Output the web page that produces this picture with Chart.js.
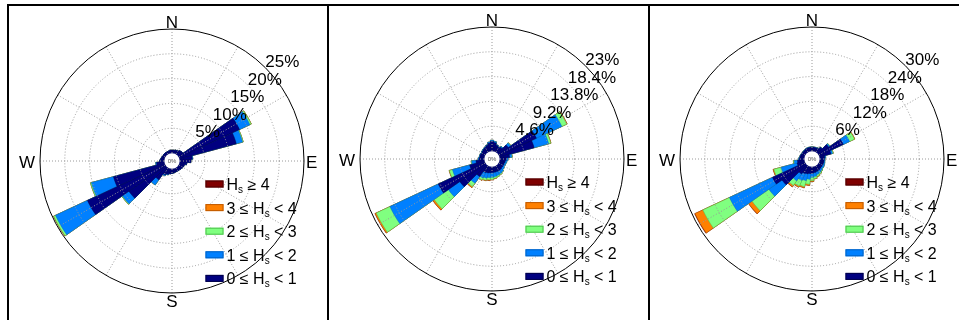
<!DOCTYPE html>
<html>
<head>
<meta charset="utf-8">
<script src="https://cdn.jsdelivr.net/npm/chart.js@4.4.0/dist/chart.umd.min.js"></script>
<style>
  html, body { margin: 0; padding: 0; background: #fff; }
  #wrap { position: relative; width: 959px; height: 320px; overflow: hidden; background: #fff; }
  .pane { position: absolute; top: 0; width: 320px; height: 320px; }
  .rule { position: absolute; background: #000; z-index: 5; }
</style>
</head>
<body>
<div id="wrap">
  <div class="pane" style="left:0px"><canvas id="rose1" width="320" height="320"></canvas></div>
  <div class="pane" style="left:320px"><canvas id="rose2" width="320" height="320"></canvas></div>
  <div class="pane" style="left:640px"><canvas id="rose3" width="320" height="320"></canvas></div>
  <div class="rule" style="left:7px;top:4px;width:952px;height:2px"></div>
  <div class="rule" style="left:7px;top:4px;width:2px;height:316px"></div>
  <div class="rule" style="left:327px;top:4px;width:2px;height:316px"></div>
  <div class="rule" style="left:648px;top:4px;width:2px;height:316px"></div>
</div>
<script>
// Direction bins (degrees clockwise from north), 10 degrees wide
const directions = [0,10,20,30,40,50,60,70,80,90,100,110,120,130,140,150,160,170,
                    180,190,200,210,220,230,240,250,260,270,280,290,300,310,320,330,340,350];

// Wave height classes (lowest first) and their colours
const classNames = ['0 ≤ Hs < 1', '1 ≤ Hs < 2', '2 ≤ Hs < 3', '3 ≤ Hs < 4', 'Hs ≥ 4'];
const classFill  = ['#000080', '#0080ff', '#80ff80', '#ff8000', '#800000'];
const classEdge  = ['#00004a', '#0062c4', '#4cc04c', '#c05a00', '#4a0000'];

// Rose 1: frequency (%) per direction for each class
const p1Hs0 = [0.6,0.6,0.7,0.8,1.0,1.1,13.4,11.8,2.5,2.2,1.4,1.0,0.9,0.8,0.7,0.7,0.7,0.8,
               0.9,1.0,1.2,1.5,3.0,9.0,17.2,10.6,1.5,0.9,0.7,0.6,0.5,0.5,0.5,0.5,0.5,0.6];
const p1Hs1 = [0,0,0,0,0,0,2.3,1.3,0.1,0,0,0,0,0,0,0,0,0,
               0,0,0.1,0.2,1.3,1.6,7.1,4.6,0.2,0,0,0,0,0,0,0,0,0];
const p1Hs2 = [0,0,0,0,0,0,0.3,0.15,0,0,0,0,0,0,0,0,0,0,
               0,0,0,0,0,0.15,0.4,0.2,0,0,0,0,0,0,0,0,0,0];
const p1Hs3 = [0,0,0,0,0,0,0.03,0,0,0,0,0,0,0,0,0,0,0,
               0,0,0,0,0,0,0.05,0,0,0,0,0,0,0,0,0,0,0];
const p1Hs4 = [0,0,0,0,0,0,0,0,0,0,0,0,0,0,0,0,0,0,
               0,0,0,0,0,0,0,0,0,0,0,0,0,0,0,0,0,0];
const p1Ticks  = [5, 10, 15, 20, 25];
const p1Labels = ['5%', '10%', '15%', '20%', '25%'];

// Rose 2
const p2Hs0 = [1.8,1.6,1.2,1.0,1.2,2.2,7.6,6.6,1.8,1.2,1.0,0.9,0.9,0.9,1.0,1.0,1.0,1.0,
               1.0,1.1,1.2,1.3,2.5,5.8,9.5,2.8,1.5,0.9,0.8,0.8,0.7,0.8,0.9,1.0,1.2,1.5];
const p2Hs1 = [0.2,0.2,0.1,0.1,0.2,0.5,5.2,2.8,0.4,0.3,0.3,0.3,0.3,0.4,0.5,0.6,0.7,0.8,
               0.9,0.9,1.0,1.1,1.5,2.6,9.9,3.3,0.8,0.2,0.1,0.1,0.1,0.1,0.1,0.1,0.1,0.2];
const p2Hs2 = [0,0,0,0,0,0.1,1.0,0.4,0.1,0,0,0,0,0,0.1,0.2,0.25,0.3,
               0.4,0.4,0.4,0.4,0.8,3.2,2.8,0.6,0.1,0,0,0,0,0,0,0,0,0];
const p2Hs3 = [0,0,0,0,0,0,0.1,0.05,0,0,0,0,0,0,0,0,0,0.05,
               0.1,0.12,0.1,0.1,0.2,0.3,0.25,0.05,0,0,0,0,0,0,0,0,0,0];
const p2Hs4 = [0,0,0,0,0,0,0,0,0,0,0,0,0,0,0,0,0,0,
               0,0.03,0,0,0,0.03,0.03,0,0,0,0,0,0,0,0,0,0,0];
const p2Ticks  = [4.6, 9.2, 13.8, 18.4, 23];
const p2Labels = ['4.6%', '9.2%', '13.8%', '18.4%', '23%'];

// Rose 3
const p3Hs0 = [0.9,0.9,0.9,1.0,1.5,3.0,6.4,2.8,1.2,1.0,1.0,1.0,1.0,1.0,1.1,1.2,1.3,1.4,
               1.5,1.6,1.8,2.0,2.5,6.9,8.6,1.8,1.6,1.1,1.0,0.9,0.8,0.8,0.8,0.9,0.9,0.9];
const p3Hs1 = [0.1,0.1,0.1,0.1,0.1,0.3,1.7,0.4,0.2,0.2,0.2,0.3,0.4,0.4,0.5,0.6,0.7,0.9,
               1.0,1.4,1.7,1.8,2.0,3.9,11.5,4.0,0.8,0.2,0.1,0.1,0.1,0.1,0.1,0.1,0.1,0.1];
const p3Hs2 = [0,0,0,0,0,0.1,1.3,0.2,0,0,0,0,0,0.1,0.2,0.3,0.4,0.5,
               0.8,1.2,1.5,1.5,1.4,5.0,7.1,1.8,0.2,0,0,0,0,0,0,0,0,0];
const p3Hs3 = [0,0,0,0,0,0,0.1,0,0,0,0,0,0,0,0,0.05,0.1,0.1,
               0.2,0.3,0.3,0.3,0.4,1.0,2.1,0.2,0,0,0,0,0,0,0,0,0,0];
const p3Hs4 = [0,0,0,0,0,0,0,0,0,0,0,0,0,0,0,0,0,0,
               0,0,0,0,0.03,0.05,0.1,0,0,0,0,0,0,0,0,0,0,0];
const p3Ticks  = [6, 12, 18, 24, 30];
const p3Labels = ['6%', '12%', '18%', '24%', '30%'];

const FONT = '"Liberation Sans", Arial, Helvetica, sans-serif';
const RADIUS = 132;   // outer ring radius in px
const HOLE = 8;       // empty centre radius in px

// Rings, spokes, centre hole, ring labels, compass letters and legend
const roseDecor = {
  id: 'roseDecor',
  afterDatasetsDraw(chart, args, opts) {
    const s = chart.scales.r;
    const ctx = chart.ctx;
    const cx = s.xCenter, cy = s.yCenter;
    const r = v => s.getDistanceFromCenterForValue(v);
    const outer = r(s.max);
    const pt = (deg, rad) => [cx + rad * Math.sin(deg * Math.PI / 180), cy - rad * Math.cos(deg * Math.PI / 180)];

    ctx.save();
    // dotted rings
    ctx.strokeStyle = '#9a9a9a';
    ctx.lineWidth = 1;
    ctx.setLineDash([1, 2]);
    opts.ticks.slice(0, -1).forEach(t => {
      ctx.beginPath();
      ctx.arc(cx, cy, r(t), 0, Math.PI * 2);
      ctx.stroke();
    });
    // dotted spokes every 30 degrees
    for (let a = 0; a < 360; a += 30) {
      const [x0, y0] = pt(a, r(0));
      const [x1, y1] = pt(a, outer);
      ctx.beginPath();
      ctx.moveTo(x0, y0);
      ctx.lineTo(x1, y1);
      ctx.stroke();
    }
    ctx.setLineDash([]);
    // solid outer ring
    ctx.strokeStyle = '#000';
    ctx.lineWidth = 1;
    ctx.beginPath();
    ctx.arc(cx, cy, outer, 0, Math.PI * 2);
    ctx.stroke();

    // empty centre
    ctx.fillStyle = '#fff';
    ctx.beginPath();
    ctx.arc(cx, cy, r(0) - 0.3, 0, Math.PI * 2);
    ctx.fill();
    ctx.fillStyle = '#555';
    ctx.font = '6px ' + FONT;
    ctx.textAlign = 'center';
    ctx.textBaseline = 'middle';
    ctx.fillText('0%', cx, cy);

    // ring labels along the north-east diagonal
    ctx.fillStyle = '#000';
    ctx.font = '17px ' + FONT;
    ctx.textAlign = 'left';
    ctx.textBaseline = 'alphabetic';
    opts.ticks.forEach((t, i) => {
      const [x, y] = pt(45, r(t));
      ctx.fillText(opts.labels[i], x, y - 0.5);
    });

    // compass letters
    ctx.textAlign = 'center';
    ctx.fillText('N', cx, cy - outer - 1);
    ctx.textBaseline = 'top';
    ctx.fillText('S', cx, cy + outer + 1);
    ctx.textBaseline = 'alphabetic';
    ctx.textAlign = 'left';
    ctx.fillText('E', cx + outer + 2, cy + 7);
    ctx.textAlign = 'right';
    ctx.fillText('W', cx - outer - 5, cy + 7);

    // legend, highest class on top
    const order = [4, 3, 2, 1, 0];
    order.forEach((k, row) => {
      const yMid = cy + 23 + row * 23.6;
      const x0 = cx + 33.5;
      ctx.fillStyle = classFill[k];
      ctx.fillRect(x0, yMid - 3.5, 18, 7);
      ctx.strokeStyle = classEdge[k];
      ctx.lineWidth = 1;
      ctx.strokeRect(x0 + 0.5, yMid - 3, 17, 6);
      // label with subscript s
      const name = classNames[k];
      const hsAt = name.indexOf('Hs');
      const pre = name.slice(0, hsAt) + 'H';
      const post = name.slice(hsAt + 2);
      const base = yMid + 6;
      let x = cx + 54.5;
      ctx.fillStyle = '#000';
      ctx.textAlign = 'left';
      ctx.textBaseline = 'alphabetic';
      ctx.font = '16px ' + FONT;
      ctx.fillText(pre, x, base);
      x += ctx.measureText(pre).width;
      ctx.font = '10px ' + FONT;
      ctx.fillText('s', x, base + 3);
      x += ctx.measureText('s').width;
      ctx.font = '16px ' + FONT;
      ctx.fillText(post, x, base);
    });
    ctx.restore();
  }
};

function makeRose(canvasId, classes, ticks, labels, cx, cy) {
  const max = ticks[ticks.length - 1];
  const min = -max * HOLE / (RADIUS - HOLE);
  // stacked frequencies: each dataset reaches the top of its class
  const stacked = [];
  let run = directions.map(() => 0);
  classes.forEach(arr => {
    run = run.map((v, i) => v + arr[i]);
    stacked.push(run.slice());
  });
  new Chart(document.getElementById(canvasId), {
    type: 'polarArea',
    data: {
      labels: directions.map(d => d + '°'),
      datasets: stacked.map((vals, k) => ({
        label: classNames[k],
        data: vals,
        backgroundColor: classFill[k],
        borderColor: classEdge[k],
        borderWidth: 0.5
      }))
    },
    options: {
      responsive: false,
      animation: false,
      events: [],
      layout: { padding: { left: cx - RADIUS, top: cy - RADIUS, right: 320 - cx - RADIUS, bottom: 320 - cy - RADIUS } },
      plugins: {
        legend: { display: false },
        tooltip: { enabled: false },
        roseDecor: { ticks: ticks, labels: labels }
      },
      scales: {
        r: {
          min: min,
          max: max,
          startAngle: -5,
          ticks: { display: false },
          grid: { display: false },
          angleLines: { display: false },
          pointLabels: { display: false }
        }
      }
    },
    plugins: [roseDecor]
  });
}

makeRose('rose1', [p1Hs0, p1Hs1, p1Hs2, p1Hs3, p1Hs4], p1Ticks, p1Labels, 172, 161);
makeRose('rose2', [p2Hs0, p2Hs1, p2Hs2, p2Hs3, p2Hs4], p2Ticks, p2Labels, 172, 159);
makeRose('rose3', [p3Hs0, p3Hs1, p3Hs2, p3Hs3, p3Hs4], p3Ticks, p3Labels, 172, 159);
</script>
</body>
</html>
